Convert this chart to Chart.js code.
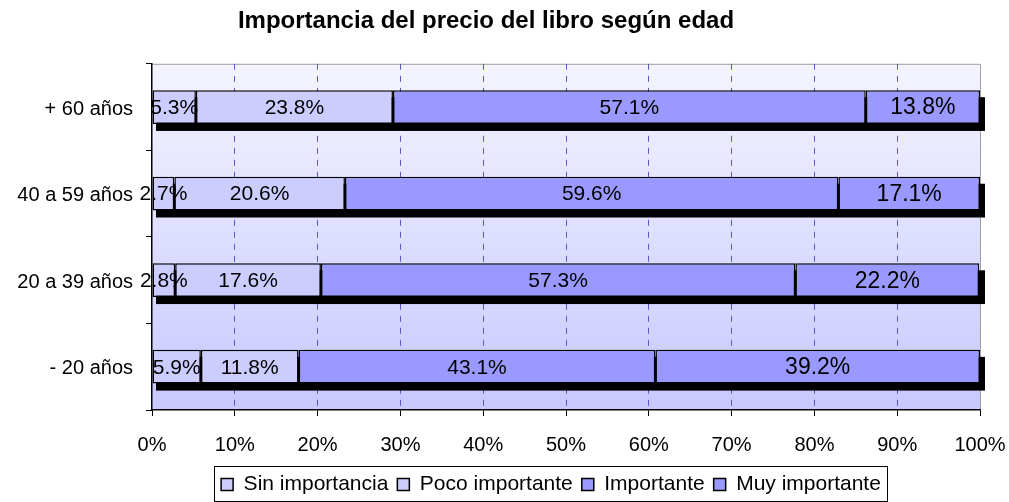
<!DOCTYPE html>
<html>
<head>
<meta charset="utf-8">
<script src="https://cdn.jsdelivr.net/npm/chart.js@4.4.0/dist/chart.umd.min.js"></script>
<style>
  body { margin: 0; background: #fff; }
  #wrap { width: 1009px; height: 502px; position: relative; }
</style>
</head>
<body>
<div id="wrap"><canvas id="myChart"></canvas></div>
<script>
// datos
const edades = ['+ 60 años', '40 a 59 años', '20 a 39 años', '- 20 años'];
const sinImportancia = [5.3, 2.7, 2.8, 5.9];
const pocoImportante = [23.8, 20.6, 17.6, 11.8];
const importante = [57.1, 59.6, 57.3, 43.1];
const muyImportante = [13.8, 17.1, 22.2, 39.2];
const ticksX = [0, 10, 20, 30, 40, 50, 60, 70, 80, 90, 100];

const fuente = "'Liberation Sans', Arial, sans-serif";
Chart.defaults.font.family = fuente;
Chart.defaults.color = '#000';

// fondo degradado del área de trazado + borde gris
const fondo = {
    id: 'fondo',
    beforeDraw(chart) {
        const { ctx, chartArea: a } = chart;
        const g = ctx.createLinearGradient(0, a.top, 0, a.bottom);
        g.addColorStop(0, '#f4f4ff');
        g.addColorStop(1, '#c8c8ff');
        ctx.save();
        ctx.fillStyle = g;
        ctx.fillRect(a.left, a.top, a.right - a.left, a.bottom - a.top);
        ctx.strokeStyle = '#a0a0a0';
        ctx.lineWidth = 1;
        ctx.beginPath();
        ctx.moveTo(a.left, a.top + 0.5);
        ctx.lineTo(a.right + 0.5, a.top + 0.5);
        ctx.lineTo(a.right + 0.5, a.bottom);
        ctx.stroke();
        ctx.restore();
    }
};

// mover un poco el título y la leyenda como en el original
const ajustes = {
    id: 'ajustes',
    afterLayout(chart) {
        const t = chart.titleBlock;
        if (t) { t.left -= 4; t.right -= 4; }
        const lg = chart.legend;
        if (lg) { lg.left += 61; lg.right += 61; lg.top += 3; lg.bottom += 3; }
    }
};

// sombra negra debajo de cada barra
const sombra = {
    id: 'sombra',
    beforeDatasetsDraw(chart) {
        const { ctx, scales: { x } } = chart;
        const meta = chart.getDatasetMeta(0);
        const x0 = x.getPixelForValue(0);
        const x1 = x.getPixelForValue(100);
        ctx.save();
        ctx.fillStyle = '#000';
        meta.data.forEach(el => {
            const h = el.height;
            ctx.fillRect(x0 + 4, el.y - h / 2 + 7, x1 - x0 + 1, h);
        });
        ctx.restore();
    }
};

// etiquetas de porcentaje
const etiquetas = {
    id: 'etiquetas',
    afterDatasetsDraw(chart) {
        const { ctx } = chart;
        ctx.save();
        ctx.textAlign = 'center';
        ctx.textBaseline = 'middle';
        ctx.fillStyle = '#000';
        chart.data.datasets.forEach((ds, i) => {
            ctx.font = (i === 3 ? '23px ' : '21px ') + fuente;
            chart.getDatasetMeta(i).data.forEach((el, j) => {
                const cx = (el.x + el.base) / 2;
                ctx.fillText(ds.data[j].toFixed(1) + '%', cx, el.y + 1);
            });
        });
        ctx.restore();
    }
};

// marco de la leyenda
const marcoLeyenda = {
    id: 'marcoLeyenda',
    afterDraw(chart) {
        const boxes = chart.legend.legendHitBoxes;
        if (!boxes || !boxes.length) return;
        const left = Math.min(...boxes.map(b => b.left)) - 7;
        const right = Math.max(...boxes.map(b => b.left + b.width)) + 6;
        const top = boxes[0].top - 8;
        const ctx = chart.ctx;
        ctx.save();
        ctx.strokeStyle = '#000';
        ctx.lineWidth = 1;
        ctx.strokeRect(Math.round(left) + 0.5, Math.round(top) + 0.5, Math.round(right - left), 501 - Math.round(top));
        ctx.restore();
    }
};

const ctx = document.getElementById('myChart').getContext('2d');
const myChart = new Chart(ctx, {
    type: 'bar',
    data: {
        labels: edades,
        datasets: [
            { label: 'Sin importancia', data: sinImportancia, backgroundColor: '#ccccff' },
            { label: 'Poco importante', data: pocoImportante, backgroundColor: '#ccccff' },
            { label: 'Importante', data: importante, backgroundColor: '#9999ff' },
            { label: 'Muy importante', data: muyImportante, backgroundColor: '#9999ff' }
        ].map(d => Object.assign(d, {
            borderColor: '#000',
            borderWidth: 1.5,
            borderSkipped: false,
            categoryPercentage: 1,
            barPercentage: 0.39
        }))
    },
    options: {
        indexAxis: 'y',
        responsive: true,
        maintainAspectRatio: false,
        animation: false,
        layout: { padding: { left: 0, right: 29, top: 0, bottom: 0 } },
        scales: {
            x: {
                stacked: true,
                min: 0,
                max: 100,
                afterBuildTicks: s => { s.ticks = ticksX.map(v => ({ value: v })); },
                afterFit: s => { s.height = 52; s.paddingRight = 0; },
                ticks: {
                    padding: 17,
                    font: { size: 20 },
                    color: '#000',
                    callback: v => v + '%'
                },
                grid: {
                    color: c => (c.tick && (c.tick.value === 0 || c.tick.value === 100)) ? 'rgba(0,0,0,0)' : '#5a5ac8',
                    tickColor: '#000',
                    tickLength: 6,
                    lineWidth: 1
                },
                border: { color: '#000', width: 1.5, dash: [6, 6] }
            },
            y: {
                stacked: true,
                afterFit: s => { s.width = 152; },
                ticks: { padding: 13, labelOffset: 2, font: { size: 20 }, color: '#000' },
                grid: {
                    drawOnChartArea: false,
                    color: '#000',
                    tickColor: '#000',
                    tickLength: 6
                },
                border: { color: '#000', width: 1.5 }
            }
        },
        plugins: {
            title: {
                display: true,
                text: 'Importancia del precio del libro según edad',
                font: { size: 24, weight: 'bold' },
                color: '#000',
                padding: { top: 7, bottom: 28 }
            },
            legend: {
                position: 'bottom',
                labels: {
                    font: { size: 21 },
                    color: '#000',
                    boxWidth: 12,
                    boxHeight: 12,
                    padding: 9
                }
            },
            tooltip: { enabled: false }
        }
    },
    plugins: [fondo, ajustes, sombra, etiquetas, marcoLeyenda]
});
</script>
</body>
</html>
